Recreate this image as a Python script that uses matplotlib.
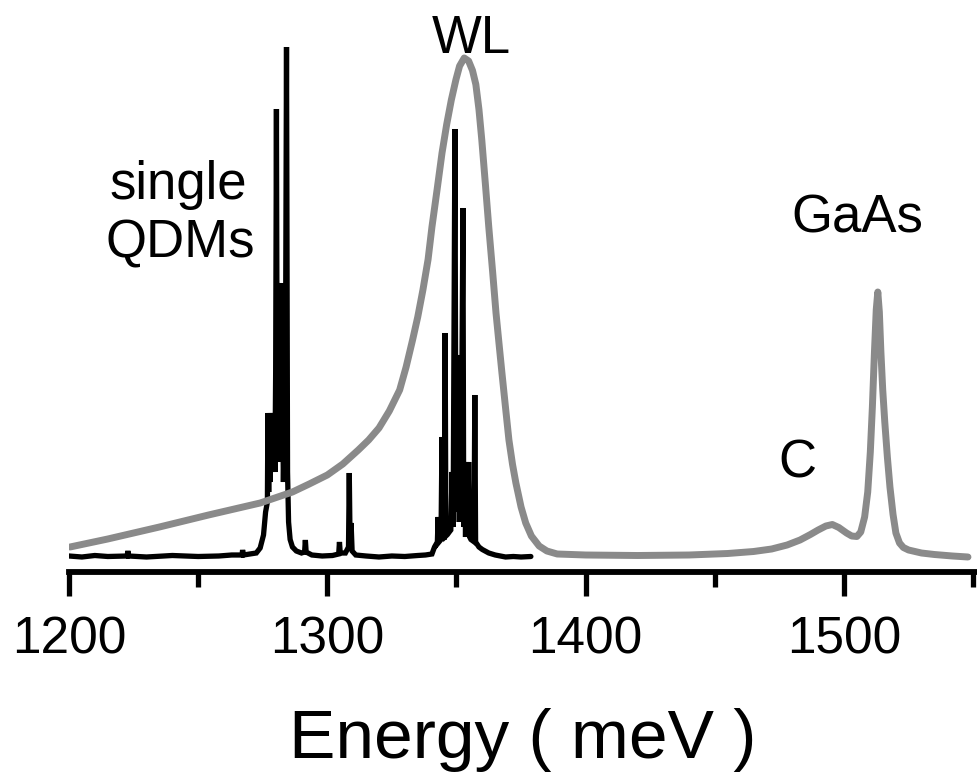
import matplotlib
matplotlib.use("Agg")
import matplotlib.pyplot as plt

plt.rcParams["font.family"] = ["Liberation Sans", "DejaVu Sans"]

# ensemble PL (gray): energy in meV, intensity in a.u.
ens_energy = [1200.4, 1215.0, 1235.0, 1254.0, 1274.0, 1286.5, 1293.0, 1300.0,
              1306.0, 1312.0, 1316.0, 1320.0, 1324.0, 1328.0, 1330.5, 1333.0,
              1335.0, 1337.0, 1339.0, 1340.5, 1342.5, 1344.4, 1346.2, 1348.0,
              1349.8, 1351.2, 1353.0, 1354.7, 1356.2, 1357.5, 1358.7, 1359.8,
              1361.2, 1362.5, 1364.0, 1365.3, 1366.5, 1367.6, 1369.0, 1370.3,
              1371.7, 1373.0, 1375.0, 1376.8, 1379.0, 1382.0, 1385.0, 1389.0,
              1400.0, 1420.0, 1440.0, 1455.0, 1465.0, 1472.0, 1478.0, 1483.0,
              1487.0, 1490.0, 1493.0, 1495.5, 1498.0, 1501.0, 1503.0, 1505.0,
              1506.5, 1508.0, 1509.2, 1510.2, 1511.0, 1511.8, 1512.5, 1513.1,
              1513.7, 1514.3, 1515.0, 1515.8, 1516.8, 1517.8, 1519.0, 1520.1,
              1521.5, 1523.0, 1525.0, 1530.0, 1535.0, 1542.0, 1548.0]
ens_intensity = [5.0, 6.6, 9.0, 11.4, 13.8, 16.0, 17.6, 19.4,
                 21.6, 24.4, 26.4, 28.8, 32.2, 36.4, 41.0, 46.4,
                 51.0, 56.4, 62.5, 69.0, 76.5, 83.8, 89.5, 94.4,
                 98.5, 101.2, 102.8, 102.2, 100.3, 97.5, 92.5, 86.4,
                 77.5, 69.0, 60.0, 51.8, 45.5, 39.8, 32.8, 26.4,
                 21.5, 17.8, 13.0, 9.8, 7.2, 5.2, 4.2, 3.6,
                 3.4, 3.3, 3.4, 3.7, 4.1, 4.6, 5.4, 6.4,
                 7.5, 8.4, 9.2, 9.5, 8.9, 7.8, 7.2, 7.1,
                 8.0, 11.0, 16.0, 24.0, 33.0, 44.0, 52.5, 56.0,
                 52.0, 44.0, 36.5, 30.0, 23.0, 17.0, 11.5, 7.8,
                 5.8, 4.9, 4.4, 3.8, 3.5, 3.2, 3.0]

# single QDM spectrum (black)
qdm_energy = [1200.0, 1205.0, 1210.0, 1215.0, 1222.5, 1222.8, 1223.1, 1230.0,
              1240.0, 1250.0, 1258.0, 1263.0, 1267.0, 1267.2, 1267.5, 1270.0,
              1272.5, 1274.0, 1275.3, 1276.1, 1276.8, 1277.0, 1277.3, 1277.6,
              1277.9, 1278.2, 1278.5, 1278.8, 1279.1, 1279.4, 1279.7, 1280.0,
              1280.3, 1280.6, 1280.9, 1281.2, 1281.5, 1281.8, 1282.1, 1282.4,
              1282.7, 1283.0, 1283.4, 1283.8, 1284.2, 1284.6, 1285.0, 1285.6,
              1286.5, 1288.0, 1290.0, 1291.2, 1291.5, 1291.8, 1294.0, 1298.0,
              1302.0, 1304.4, 1304.7, 1305.0, 1307.0, 1308.2, 1308.5, 1308.8,
              1309.2, 1309.6, 1311.0, 1315.0, 1320.0, 1325.0, 1330.0, 1335.0,
              1338.0, 1340.5, 1341.5, 1342.6, 1342.9, 1343.2, 1344.0, 1344.4,
              1344.8, 1345.3, 1345.6, 1345.9, 1346.5, 1347.2, 1347.8, 1348.3,
              1348.7, 1349.4, 1349.8, 1350.2, 1350.5, 1350.8, 1351.1, 1351.4,
              1351.7, 1352.0, 1352.5, 1352.8, 1353.2, 1353.5, 1353.9, 1354.3,
              1354.7, 1355.1, 1355.6, 1356.4, 1356.8, 1357.1, 1357.4, 1358.7,
              1360.0, 1362.5, 1365.0, 1369.0, 1372.0, 1375.0, 1378.8]
qdm_intensity = [3.2, 3.0, 3.3, 3.1, 3.2, 4.2, 3.2, 3.0,
                 3.3, 3.1, 3.2, 3.4, 3.4, 4.4, 3.4, 3.6,
                 3.8, 4.8, 7.4, 12.0, 14.0, 31.8, 16.0, 31.8,
                 18.0, 31.8, 20.0, 31.8, 22.0, 31.8, 20.0, 40.0,
                 92.6, 30.0, 57.8, 25.0, 57.8, 22.0, 57.8, 24.0,
                 31.8, 18.0, 30.0, 40.0, 105.0, 20.0, 10.0, 6.5,
                 5.0, 4.2, 3.8, 4.0, 6.4, 4.0, 3.4, 3.2,
                 3.3, 3.6, 6.0, 3.8, 3.8, 5.0, 19.8, 6.0,
                 9.8, 4.2, 3.4, 3.2, 3.0, 3.2, 3.1, 3.3,
                 3.4, 3.6, 5.0, 6.0, 11.0, 6.0, 6.5, 27.0,
                 7.0, 7.0, 47.8, 7.2, 7.5, 8.0, 8.4, 20.0,
                 9.0, 88.6, 12.0, 43.4, 12.0, 43.4, 10.0, 43.4,
                 11.0, 30.0, 72.8, 9.0, 20.0, 7.0, 22.0, 8.0,
                 22.0, 7.0, 6.5, 6.2, 8.0, 35.4, 6.0, 5.0,
                 4.5, 3.8, 3.4, 3.0, 3.1, 3.0, 3.1]

major_ticks = [1200, 1300, 1400, 1500]
minor_ticks = [1250, 1350, 1450, 1550]

# peak labels: (text, energy, intensity)
peak_labels = [("single", 1242.5, 74.6),
               ("QDMs", 1243.0, 63.0),
               ("WL", 1355.6, 103.8),
               ("GaAs", 1505.0, 68.0),
               ("C", 1481.9, 19.0)]

fig = plt.figure(figsize=(9.77, 7.81), dpi=100)
ax = fig.add_axes([69 / 977, 209 / 781, 908 / 977, 572 / 781])

ax.plot(qdm_energy, qdm_intensity, color="black", lw=3.8,
        solid_joinstyle="miter", solid_capstyle="round", zorder=2)
ax.plot(ens_energy, ens_intensity, color="#8a8a8a", lw=5.0,
        solid_joinstyle="round", solid_capstyle="round", zorder=3)

for text, e, i in peak_labels:
    ax.text(e, i, text, fontsize=38, ha="center", va="baseline")

ax.set_xlim(1200, 1551.5)
ax.set_ylim(0, 114.4)

for side in ["left", "right", "top"]:
    ax.spines[side].set_visible(False)
ax.spines["bottom"].set_linewidth(4.2)
ax.set_yticks([])

ax.set_xticks(major_ticks)
ax.set_xticks(minor_ticks, minor=True)
ax.tick_params(axis="x", which="major", length=17, width=3.8,
               labelsize=37, pad=14)
ax.tick_params(axis="x", which="minor", length=11, width=3.8)
ax.set_xlabel("Energy ( meV )", fontsize=50, labelpad=32)

fig.savefig("out.png", dpi=100, facecolor="white")
